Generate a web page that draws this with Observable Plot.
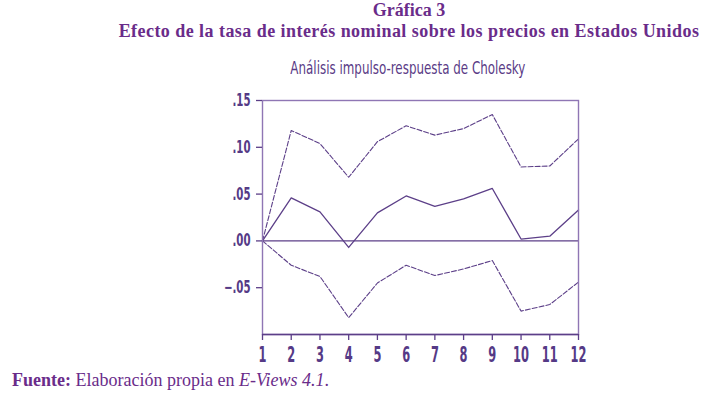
<!DOCTYPE html>
<html>
<head>
<meta charset="utf-8">
<script src="https://cdn.jsdelivr.net/npm/d3@7"></script>
<script src="https://cdn.jsdelivr.net/npm/@observablehq/plot@0.6"></script>
<style>
  html, body { margin: 0; padding: 0; background: #fff; }
  #wrap { position: relative; width: 703px; height: 394px; overflow: hidden; }
  .t { position: absolute; white-space: nowrap; color: #6a2c8a; }
  #t1 { left: 0; width: 818px; text-align: center; top: 0px; font: bold 18px "Liberation Serif", serif; }
  #t2 { left: 0; width: 818px; text-align: center; top: 21px; font: bold 18px "Liberation Serif", serif; letter-spacing: 0.45px; }
  #subwrap { position: absolute; left: 0; width: 816px; top: 58px; text-align: center; }
  #sub { display: inline-block; white-space: nowrap; font: 17px "DejaVu Sans", sans-serif; color: #5a3b86; transform-origin: center; }
  #foot { left: 12px; top: 370px; font: 18px "Liberation Serif", serif; }
  #chart { position: absolute; left: 0; top: 0; }
</style>
</head>
<body>
<div id="wrap">
  <div class="t" id="t1">Gráfica 3</div>
  <div class="t" id="t2">Efecto de la tasa de interés nominal sobre los precios en Estados Unidos</div>
  <div id="subwrap"><span id="sub">Análisis impulso-respuesta de Cholesky</span></div>
  <div id="chart"></div>
  <div class="t" id="foot"><b>Fuente:</b> Elaboración propia en <i>E-Views 4.1</i>.</div>
</div>
<script>
const periods = [1, 2, 3, 4, 5, 6, 7, 8, 9, 10, 11, 12];
const response = [0.000, 0.046, 0.031, -0.007, 0.030, 0.048, 0.037, 0.045, 0.056, 0.002, 0.005, 0.033];
const upperBand = [0.000, 0.118, 0.104, 0.068, 0.106, 0.123, 0.113, 0.120, 0.135, 0.079, 0.080, 0.109];
const lowerBand = [0.000, -0.026, -0.038, -0.082, -0.045, -0.026, -0.037, -0.030, -0.021, -0.075, -0.068, -0.044];
const yTicks = [0.15, 0.10, 0.05, 0.00, -0.05];
const xTicks = periods;

const col = "#5c3f88";
const labCol = "#553a86";
const mk = arr => periods.map((p, i) => ({p, v: arr[i]}));
const yfmt = d => d3.format(".2f")(d).replace("0.", ".");
const ff = "'DejaVu Sans', sans-serif";

const chart = Plot.plot({
  width: 703,
  height: 394,
  marginLeft: 262,
  marginRight: 125,
  marginTop: 100,
  marginBottom: 60,
  x: {domain: [1, 12]},
  y: {domain: [-0.10, 0.15]},
  style: {background: "transparent", overflow: "visible"},
  marks: [
    Plot.ruleY([0], {stroke: col, strokeWidth: 1.2}),
    Plot.line(mk(response), {x: "p", y: "v", stroke: col, strokeWidth: 1.3}),
    Plot.line(mk(upperBand), {x: "p", y: "v", stroke: col, strokeWidth: 1.1, strokeDasharray: "5,2"}),
    Plot.line(mk(lowerBand), {x: "p", y: "v", stroke: col, strokeWidth: 1.1, strokeDasharray: "5,2"}),
    Plot.frame({stroke: "#8f76b4", strokeWidth: 1.4}),
    Plot.axisY(yTicks, {tickFormat: yfmt, tickSize: 6, tickPadding: 6, stroke: col, strokeWidth: 1.3, fill: labCol, fontSize: 17, fontWeight: "bold", fontFamily: ff, label: null}),
    Plot.axisX(xTicks, {tickFormat: d => String(d), tickSize: 6, tickPadding: 6, stroke: col, strokeWidth: 1.3, fill: labCol, fontSize: 22, fontWeight: "bold", fontFamily: ff, label: null}),
    Plot.ruleY([-0.10], {stroke: col, strokeWidth: 1.6})
  ]
});
document.getElementById("chart").appendChild(chart);

// condense tick label glyphs horizontally (reference uses a condensed typeface)
function condense(sel, factor) {
  chart.querySelectorAll(sel).forEach(t => {
    const w = t.getComputedTextLength();
    t.setAttribute("textLength", (w * factor).toFixed(2));
    t.setAttribute("lengthAdjust", "spacingAndGlyphs");
  });
}
condense('g[aria-label="y-axis tick label"] text', 0.6);
condense('g[aria-label="x-axis tick label"] text', 0.52);

// condense subtitle to reference width
const sub = document.getElementById("sub");
const sw = sub.getBoundingClientRect().width;
sub.style.transform = `scaleX(${(235 / sw).toFixed(3)})`;
</script>
</body>
</html>
